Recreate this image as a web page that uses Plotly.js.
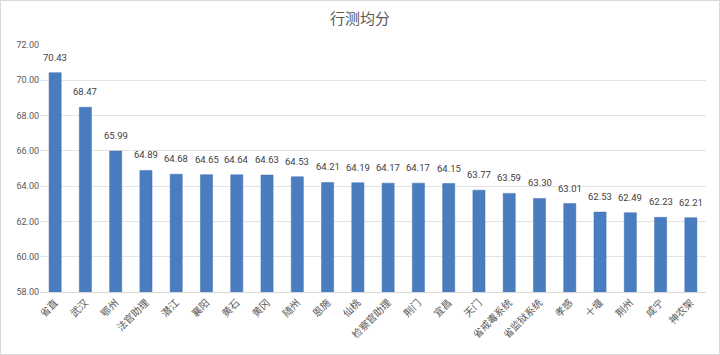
<!DOCTYPE html>
<html><head><meta charset="utf-8">
<script src="https://cdn.plot.ly/plotly-3.0.1.min.js"></script>
<style>html,body{margin:0;padding:0;background:#fff}#c{width:720px;height:355px;box-sizing:border-box;border:1px solid #d9d9d9}</style>
</head><body><div id="c"></div>
<script>
const categories = ["省直","武汉","鄂州","法官助理","潜江","襄阳","黄石","黄冈","随州","恩施","仙桃","检察官助理","荆门","宜昌","天门","省戒毒系统","省监狱系统","孝感","十堰","荆州","咸宁","神农架"];
const scores = [70.43,68.47,65.99,64.89,64.68,64.65,64.64,64.63,64.53,64.21,64.19,64.17,64.17,64.15,63.77,63.59,63.30,63.01,62.53,62.49,62.23,62.21];
const tickVals = [58,60,62,64,66,68,70,72];
const font = '"Microsoft YaHei","Noto Sans CJK SC",sans-serif';
const labelFont = 'Roboto,"DejaVu Sans",sans-serif';
Plotly.newPlot('c', [{
  type:'bar', x:categories, y:scores,
  marker:{color:'#4A7DBF', line:{color:'#3F6FAE', width:0.5}},
  hoverinfo:'none'
}], {
  width:718, height:353,
  margin:{l:39, r:13, t:44, b:62},
  paper_bgcolor:'#fff', plot_bgcolor:'#fff',
  bargap:0.6,
  title:{text:'行测均分', x:0.5, xanchor:'center', y:0.965, font:{size:15, color:'#595959', family:font}},
  xaxis:{tickangle:-45, tickfont:{size:10, color:'#595959', family:font}, showline:true, linecolor:'#d9d9d9', ticks:''},
  yaxis:{range:[58,72], tickvals:tickVals, tickformat:'.2f', tickfont:{size:9, color:'#595959', family:labelFont},
         gridcolor:'#e3e3e3', zeroline:false, showline:false, ticks:''},
  annotations: categories.map((c,i)=>({x:c, y:scores[i], text:scores[i].toFixed(2), showarrow:false,
    yanchor:'bottom', yshift:8, font:{size:9.5, color:'#404040', family:labelFont}})),
  showlegend:false
}, {staticPlot:true, displayModeBar:false});
</script></body></html>
